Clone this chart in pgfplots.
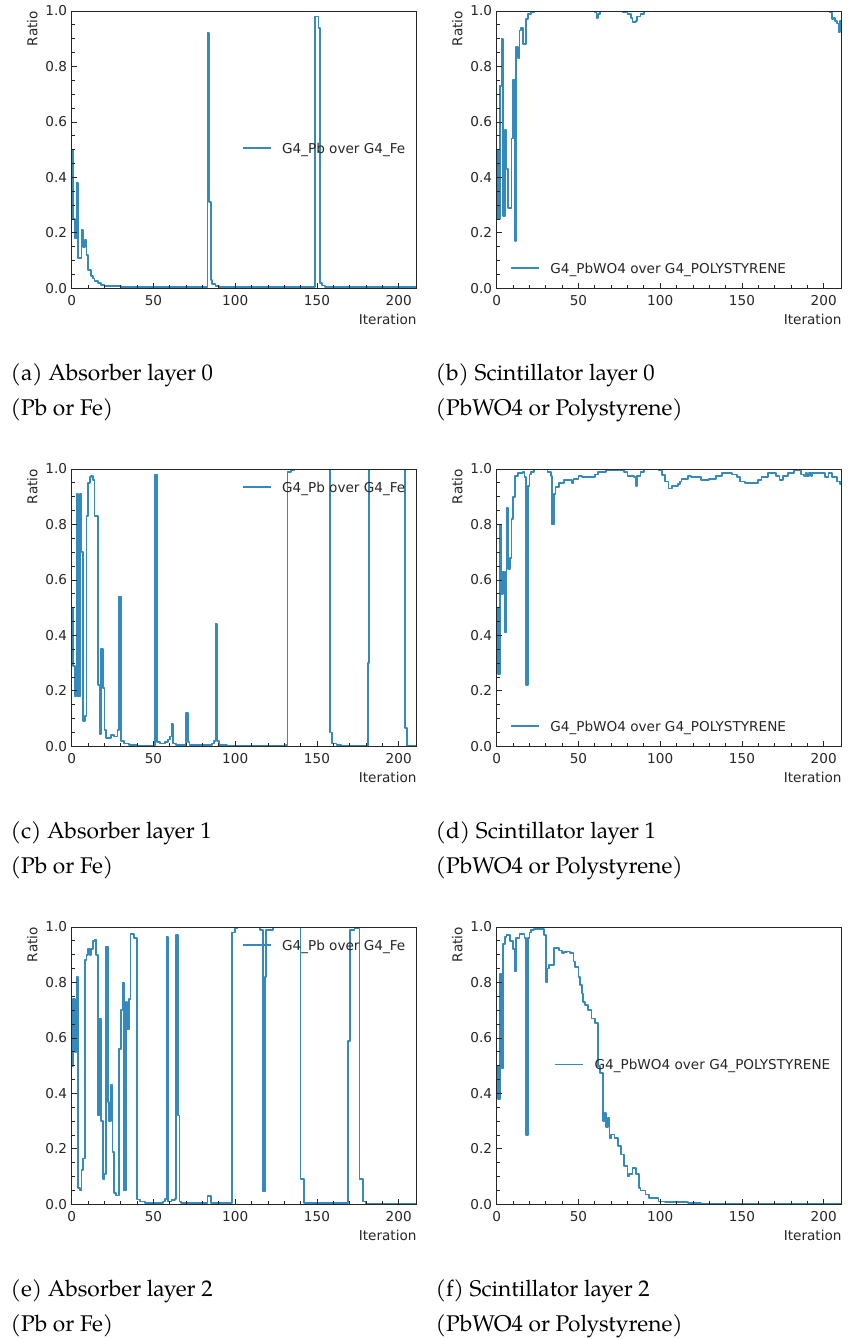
\documentclass[border=0pt]{standalone}
\usepackage{pgfplots}
\pgfplotsset{compat=1.18}
\usepackage{fontspec}
\setmainfont{DejaVu Sans}
\newfontfamily\capfont{TeX Gyre Pagella}
\definecolor{lb}{RGB}{52,138,189}
\newcommand\tfs{\fontsize{13.6}{16}\selectfont}
\pgfplotsset{
 panel/.style={
  width=345pt, height=277.3pt, scale only axis, anchor=south west,
  xmin=0, xmax=211, ymin=0, ymax=1,
  xtick={0,50,100,150,200}, ytick={0,0.2,0.4,0.6,0.8,1},
  minor x tick num=4, minor y tick num=3,
  tick align=inside, tick pos=left,
  major tick length=5.5pt, minor tick length=3pt,
  every tick/.style={black!85, line width=0.8pt},
  axis line style={black!85, line width=1pt},
  axis on top,
  /pgf/number format/assume math mode=true,
  tick label style={font=\tfs, inner sep=0pt, text=black!85},
  yticklabel style={xshift=-4.5pt, /pgf/number format/fixed, /pgf/number format/fixed zerofill, /pgf/number format/precision=1},
  xticklabel style={yshift=-6.5pt},
  xlabel={Iteration}, ylabel={Ratio},
  every axis x label/.style={at={([yshift=-31pt]rel axis cs:1,0)}, anchor=east, inner sep=0pt, font=\tfs, text=black!85},
  every axis y label/.style={at={([xshift=-39.4pt]rel axis cs:0,1)}, rotate=90, anchor=east, inner sep=0pt, font=\tfs, text=black!85},
  legend image code/.code={\draw[##1] (0pt,5pt) -- (28.3pt,5pt); \path (38.6pt,5pt);},
  legend style={draw=none, fill=none, anchor=west, inner sep=0pt, outer sep=0pt, cells={anchor=base west}, nodes={inner sep=0pt, text height=13pt, text depth=3pt, font=\tfs, text=black!85}},
 },
 ser/.style={color=lb, line width=1.75pt, const plot, line join=round, no markers},
}
\begin{document}
\begin{tikzpicture}
\useasboundingbox (0,0) rectangle (849pt,-1339pt);

% (a)
\begin{axis}[panel, at={(71.7pt,-288.3pt)}, legend style={at={(0.4928,0.505)}}]
\addplot[ser] coordinates {(0,0.50) (1,0.25) (2,0.18) (3,0.38) (4,0.11) (6,0.21) (7,0.15) (8,0.175) (9,0.12) (10,0.065) (12,0.045) (13,0.035) (14,0.025) (16,0.018) (18,0.012) (20,0.009) (25,0.007) (30,0.006) (60,0.004) (83,0.92) (84,0.31) (85,0.03) (86,0.015) (88,0.008) (90,0.005) (120,0.004) (149,0.98) (151,0.94) (152,0.02) (153,0.01) (155,0.006) (165,0.004) (211,0.003)};
\addlegendentry{G4\_Pb over G4\_Fe}
\end{axis}

% (b)
\begin{axis}[panel, at={(496.7pt,-288.3pt)}, legend style={at={(0.0386,0.072)}}]
\addplot[ser] coordinates {(0,0.50) (1,0.25) (2,0.73) (3,0.90) (4,0.26) (5,0.57) (6,0.43) (7,0.29) (9,0.54) (10,0.75) (11,0.17) (12,0.87) (13,0.83) (14,0.93) (15,0.94) (16,0.88) (18,0.97) (19,0.99) (21,0.995) (23,1.0) (60,0.995) (61,0.975) (62,0.99) (63,1.0) (77,0.995) (80,0.99) (82,0.975) (83,0.96) (85,0.965) (86,0.98) (88,0.99) (90,1.0) (204,0.995) (205,0.97) (206,0.975) (207,0.965) (208,0.955) (209,0.925) (210,0.965) (211,0.99)};
\addlegendentry{G4\_PbWO4 over G4\_POLYSTYRENE}
\end{axis}

% (c)
\begin{axis}[panel, at={(71.7pt,-746.3pt)}, legend style={at={(0.4928,0.935)}}]
\addplot[ser] coordinates {(0,0.50) (1,0.29) (2,0.18) (3,0.91) (4,0.18) (5,0.91) (6,0.70) (7,0.09) (8,0.11) (9,0.83) (10,0.95) (11,0.97) (12,0.975) (13,0.96) (14,0.83) (16,0.22) (17,0.045) (18,0.35) (19,0.21) (20,0.06) (21,0.03) (24,0.04) (26,0.035) (28,0.06) (29,0.54) (30,0.02) (32,0.01) (35,0.005) (40,0.003) (51,0.98) (52,0.015) (54,0.01) (57,0.015) (59,0.025) (60,0.035) (61,0.08) (62,0.01) (64,0.005) (70,0.12) (71,0.015) (72,0.005) (86,0.01) (87,0.02) (88,0.44) (89,0.02) (90,0.005) (95,0.003) (100,0.002) (131,0.004) (132,0.99) (134,0.995) (136,1.0) (158,0.05) (159,0.01) (162,0.005) (165,0.002) (181,0.30) (182,1.0) (204,0.065) (205,0.001) (211,0.001)};
\addlegendentry{G4\_Pb over G4\_Fe}
\end{axis}

% (d)
\begin{axis}[panel, at={(496.7pt,-746.3pt)}, legend style={at={(0.0386,0.072)}}]
\addplot[ser] coordinates {(0,0.50) (1,0.26) (2,0.80) (3,0.55) (4,0.63) (5,0.41) (6,0.86) (7,0.64) (8,0.68) (9,0.82) (10,0.90) (11,0.975) (13,0.985) (16,0.99) (17,0.97) (18,0.22) (19,0.94) (20,0.98) (21,0.99) (23,1.0) (31,0.99) (33,0.975) (34,0.80) (35,0.91) (36,0.935) (38,0.95) (41,0.96) (46,0.95) (47,0.965) (50,0.975) (52,0.972) (60,0.98) (62,0.99) (67,0.996) (78,0.99) (80,0.975) (84,0.97) (85,0.94) (86,0.975) (88,0.99) (90,0.998) (99,0.995) (101,0.978) (103,0.955) (105,0.93) (107,0.94) (111,0.945) (112,0.955) (113,0.964) (117,0.975) (119,0.97) (125,0.96) (130,0.965) (134,0.975) (138,0.985) (144,0.98) (147,0.97) (149,0.955) (152,0.95) (160,0.96) (162,0.97) (166,0.985) (171,0.975) (173,0.96) (175,0.975) (178,0.985) (182,0.995) (186,0.98) (188,0.975) (189,0.985) (190,0.975) (191,0.985) (192,0.975) (193,0.985) (195,0.985) (201,0.97) (203,0.985) (205,0.97) (208,0.955) (210,0.945) (211,0.945)};
\addlegendentry{G4\_PbWO4 over G4\_POLYSTYRENE}
\end{axis}

% (e)
\begin{axis}[panel, at={(71.7pt,-1204.3pt)}, legend style={at={(0.4928,0.934)}}]
\addplot[ser] coordinates {(0,0.50) (1,0.74) (2,0.55) (3,0.82) (4,0.06) (5,0.05) (6,0.125) (7,0.165) (8,0.88) (9,0.90) (10,0.92) (11,0.90) (12,0.92) (13,0.95) (14,0.955) (15,0.90) (16,0.32) (17,0.67) (18,0.30) (19,0.09) (20,0.11) (21,0.93) (22,0.37) (23,0.30) (24,0.43) (25,0.19) (26,0.04) (27,0.032) (29,0.56) (30,0.70) (31,0.80) (32,0.05) (33,0.73) (34,0.63) (35,0.74) (36,0.976) (38,0.96) (40,0.017) (42,0.01) (45,0.005) (56,0.01) (57,0.02) (58,0.965) (59,0.01) (61,0.015) (63,0.02) (64,0.97) (65,0.32) (66,0.01) (67,0.005) (83,0.03) (85,0.005) (98,0.98) (100,0.995) (101,1.0) (115,0.99) (117,0.046) (118,0.82) (119,0.99) (123,1.0) (140,0.09) (142,0.005) (169,0.59) (170,0.99) (173,0.995) (176,0.09) (178,0.01) (180,0.003) (211,0.002)};
\addlegendentry{G4\_Pb over G4\_Fe}
\end{axis}

% (f)
\begin{axis}[panel, at={(496.7pt,-1204.3pt)}, legend style={at={(0.167,0.504)}}]
\addplot[ser] coordinates {(0,0.50) (1,0.38) (2,0.83) (3,0.49) (4,0.94) (5,0.964) (6,0.97) (8,0.95) (10,0.92) (11,0.84) (12,0.96) (14,0.976) (17,0.96) (18,0.25) (19,0.96) (20,0.98) (21,0.99) (23,0.994) (29,0.97) (30,0.80) (31,0.85) (32,0.862) (35,0.924) (38,0.915) (40,0.905) (41,0.91) (43,0.912) (45,0.905) (47,0.876) (48,0.855) (50,0.82) (51,0.79) (52,0.76) (53,0.73) (54,0.72) (56,0.70) (58,0.67) (60,0.655) (62,0.50) (63,0.474) (65,0.30) (66,0.33) (67,0.28) (68,0.31) (69,0.237) (70,0.252) (72,0.24) (74,0.21) (76,0.18) (78,0.138) (80,0.10) (81,0.11) (83,0.132) (85,0.11) (87,0.06) (88,0.05) (91,0.035) (93,0.022) (99,0.01) (103,0.007) (117,0.004) (125,0.001) (211,0.001)};
\addlegendentry{G4\_PbWO4 over G4\_POLYSTYRENE}
\end{axis}

% captions
\begin{scope}[every node/.style={anchor=base west, inner sep=0pt, font=\capfont\fontsize{22.7}{30}\selectfont}]
\node at (10.5pt,-380.7pt) {(a) Absorber layer 0};
\node at (10.5pt,-415pt) {(Pb or Fe)};
\node at (435.5pt,-380.7pt) {(b) Scintillator layer 0};
\node at (435.5pt,-415pt) {(PbWO4 or Polystyrene)};
\node at (10.5pt,-838.7pt) {(c) Absorber layer 1};
\node at (10.5pt,-873pt) {(Pb or Fe)};
\node at (435.5pt,-838.7pt) {(d) Scintillator layer 1};
\node at (435.5pt,-873pt) {(PbWO4 or Polystyrene)};
\node at (10.5pt,-1296.7pt) {(e) Absorber layer 2};
\node at (10.5pt,-1331pt) {(Pb or Fe)};
\node at (435.5pt,-1296.7pt) {(f) Scintillator layer 2};
\node at (435.5pt,-1331pt) {(PbWO4 or Polystyrene)};
\end{scope}
\end{tikzpicture}
\end{document}
